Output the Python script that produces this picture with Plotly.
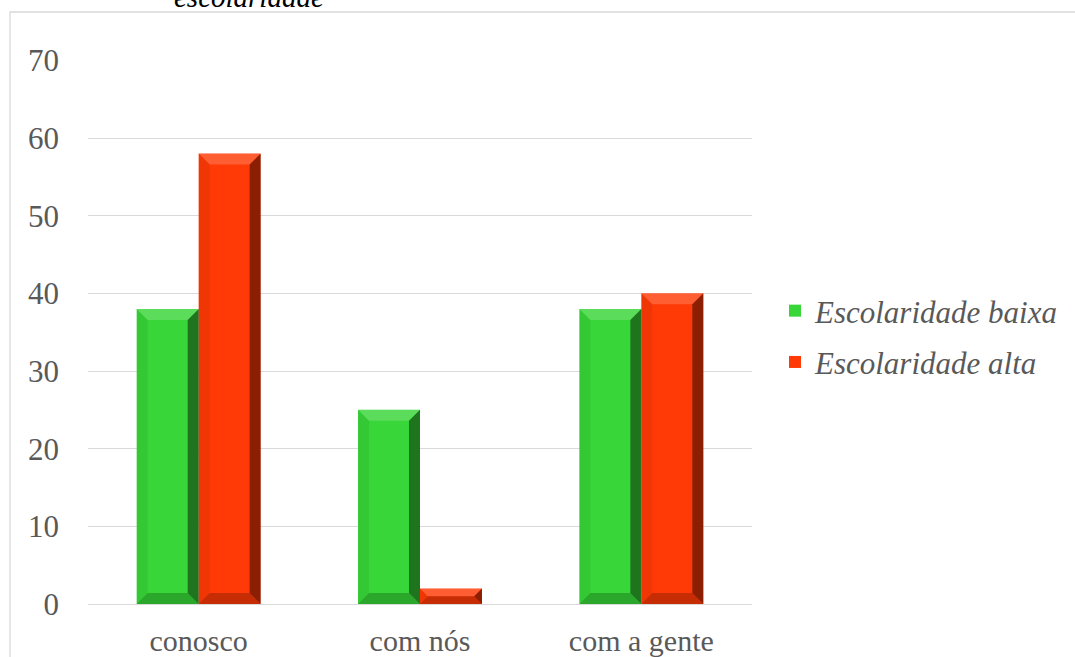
import plotly.graph_objects as go

categories = ["conosco", "com nós", "com a gente"]
baixa = [38, 25, 38]
alta = [58, 2, 40]
series_names = ["Escolaridade baixa", "Escolaridade alta"]
y_ticks = [0, 10, 20, 30, 40, 50, 60, 70]

GREEN = "#38d638"
RED = "#ff3a06"
TXT = "#595959"
FONT = "Liberation Serif, Times New Roman, serif"

W, H = 1075, 657
L, R, T, B = 88, 323, 60, 53
plot_w = W - L - R
plot_h = H - T - B
bargap = 0.44
bw = (1 - bargap) / 2

xs = list(range(len(categories)))
fig = go.Figure()
fig.add_trace(go.Bar(x=xs, y=baixa, name=series_names[0], marker=dict(color=GREEN, line=dict(width=0)),
                     legendgroup="a"))
fig.add_trace(go.Bar(x=xs, y=alta, name=series_names[1], marker=dict(color=RED, line=dict(width=0)),
                     legendgroup="b"))

# bevel shading shapes derived from data
px_x = 3.0 / plot_w  # category units per pixel
px_y = 70.0 / plot_h  # value units per pixel
shapes = []
for si, vals in enumerate([baixa, alta]):
    for i, v in enumerate(vals):
        x0 = i - bw + si * bw
        x1 = x0 + bw
        hpx = v / px_y
        b = min(11, hpx / 2)
        bx = b * px_x
        by = b * px_y
        shapes.append(dict(type="path", xref="x", yref="y",
                           path=f"M {x0},{v} L {x1},{v} L {x1-bx},{v-by} L {x0+bx},{v-by} Z",
                           fillcolor="rgba(255,255,255,0.18)", line=dict(width=0), layer="above"))
        shapes.append(dict(type="path", xref="x", yref="y",
                           path=f"M {x0},0 L {x1},0 L {x1-bx},{by} L {x0+bx},{by} Z",
                           fillcolor="rgba(0,0,0,0.22)", line=dict(width=0), layer="above"))
        shapes.append(dict(type="path", xref="x", yref="y",
                           path=f"M {x1},0 L {x1},{v} L {x1-bx},{v-by} L {x1-bx},{by} Z",
                           fillcolor="rgba(0,0,0,0.45)", line=dict(width=0), layer="above"))
        shapes.append(dict(type="path", xref="x", yref="y",
                           path=f"M {x0},0 L {x0},{v} L {x0+bx},{v-by} L {x0+bx},{by} Z",
                           fillcolor="rgba(0,0,0,0.06)", line=dict(width=0), layer="above"))

# outer frame (partial border of the embedded chart)
shapes.append(dict(type="rect", xref="paper", yref="paper",
                   x0=(10 - L) / plot_w, x1=(W + 20 - L) / plot_w,
                   y0=-(B + 20) / plot_h, y1=(H - B - 12) / plot_h,
                   line=dict(color="#d9d9d9", width=1.3), fillcolor="rgba(0,0,0,0)", layer="below"))

fig.update_layout(
    width=W, height=H,
    margin=dict(l=L, r=R, t=T, b=B, autoexpand=False),
    paper_bgcolor="white", plot_bgcolor="white",
    barmode="group", bargap=bargap, bargroupgap=0.0,
    font=dict(family=FONT, color=TXT, size=31),
    showlegend=True,
    legend=dict(x=(775 - L) / plot_w, y=(H - B - 284) / plot_h, xanchor="left", yanchor="top",
                font=dict(family=FONT, size=31, color=TXT, style="italic"),
                tracegroupgap=8, traceorder="grouped", itemwidth=30,
                bgcolor="rgba(0,0,0,0)"),
    xaxis=dict(range=[-0.5, 2.5], tickvals=xs, ticktext=categories, showgrid=False, automargin=False,
               zeroline=False, showline=False, ticks="", ticklabelstandoff=16,
               tickfont=dict(family=FONT, size=30, color=TXT)),
    yaxis=dict(range=[0, 70.05], tickvals=y_ticks, showgrid=True, gridcolor="#d9d9d9", gridwidth=1.3,
               automargin=False,
               zeroline=True, zerolinecolor="#d9d9d9", zerolinewidth=1.3, showline=False, ticks="",
               ticklabelstandoff=28, tickfont=dict(family=FONT, size=31, color=TXT)),
    shapes=shapes,
    annotations=[dict(text="<i>escolaridade</i>", xref="paper", yref="paper",
                      x=(249 - L) / plot_w, y=(H - B - 15) / plot_h, xanchor="center", yanchor="bottom",
                      showarrow=False, font=dict(family=FONT, size=29, color="black"))],
)

fig.write_html("out.html")
